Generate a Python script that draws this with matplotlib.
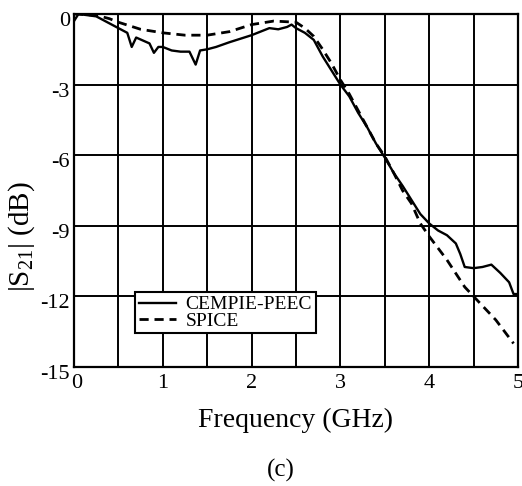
import numpy as np
import matplotlib
matplotlib.use("Agg")
import matplotlib.pyplot as plt
import matplotlib.transforms as mtransforms

plt.rcParams['font.family'] = ['Liberation Serif', 'DejaVu Serif']
plt.rcParams['mathtext.fontset'] = 'custom'
plt.rcParams['mathtext.rm'] = 'Liberation Serif'
plt.rcParams['mathtext.default'] = 'regular'

# CEMPIE-PEEC (solid)
f_cempie = [0.0, 0.05, 0.25, 0.5, 0.6, 0.65, 0.7, 0.85, 0.9, 0.95, 1.0, 1.1, 1.2, 1.3,
            1.37, 1.42, 1.5, 1.6, 1.75, 2.0, 2.1, 2.2, 2.3, 2.4, 2.45, 2.5, 2.6, 2.7,
            2.8, 2.9, 3.0, 3.1, 3.2, 3.3, 3.4, 3.5, 3.6, 3.7, 3.8, 3.9, 4.0, 4.1, 4.2,
            4.3, 4.35, 4.4, 4.5, 4.6, 4.7, 4.8, 4.9, 4.95, 5.0]
s21_cempie = [-0.3, 0.0, -0.1, -0.6, -0.8, -1.4, -1.0, -1.25, -1.65, -1.4, -1.4, -1.55,
              -1.6, -1.6, -2.15, -1.55, -1.5, -1.4, -1.2, -0.9, -0.75, -0.6, -0.65, -0.55,
              -0.45, -0.6, -0.8, -1.1, -1.8, -2.4, -3.0, -3.5, -4.2, -4.8, -5.5, -6.1,
              -6.75, -7.3, -7.9, -8.5, -8.9, -9.2, -9.4, -9.75, -10.2, -10.75, -10.8,
              -10.75, -10.65, -11.0, -11.4, -11.9, -11.9]

# SPICE (dashed)
f_spice = [0.0, 0.25, 0.4, 0.5, 0.75, 1.0, 1.25, 1.5, 1.75, 2.0, 2.25, 2.5, 2.6, 2.7,
           2.8, 2.9, 3.0, 3.1, 3.2, 3.3, 3.4, 3.5, 3.6, 3.7, 3.8, 3.9, 4.0, 4.2, 4.4,
           4.5, 4.75, 4.95]
s21_spice = [0.0, -0.05, -0.2, -0.35, -0.65, -0.8, -0.9, -0.9, -0.75, -0.45, -0.3, -0.35,
             -0.6, -0.95, -1.5, -2.1, -2.8, -3.4, -4.1, -4.8, -5.5, -6.05, -6.75, -7.5,
             -8.05, -8.9, -9.45, -10.45, -11.6, -12.0, -13.0, -14.0]

x_ticks = [0, 1, 2, 3, 4, 5]
y_ticks = [0, -3, -6, -9, -12, -15]

fig = plt.figure(figsize=(5.22, 4.86), dpi=100)
ax = fig.add_axes([74/522, 1-367/486, 444/522, 353/486])

ax.plot(f_cempie, s21_cempie, color='black', lw=1.7, label='CEMPIE-PEEC')
ax.plot(f_spice, s21_spice, color='black', lw=2.0, dashes=(3.3, 2.1), label='SPICE')

ax.set_xlim(0, 5)
ax.set_ylim(-15, 0)
ax.set_xticks(x_ticks)
ax.set_xticks(np.arange(0, 5.01, 0.5), minor=True)
ax.set_yticks(y_ticks)
ax.set_yticklabels([str(v) for v in y_ticks])
ax.grid(True, which='both', color='black', lw=1.4)
ax.tick_params(which='both', length=0, labelsize=16, pad=3)
ax.tick_params(axis='x', pad=5)
for s in ax.spines.values():
    s.set_linewidth(1.6)

# y tick labels sit slightly below their grid lines in the reference
down = mtransforms.ScaledTranslation(0, -5/100, fig.dpi_scale_trans)
for lbl in ax.get_yticklabels():
    lbl.set_transform(lbl.get_transform() + down)
xl0 = ax.get_xticklabels()[0]
xl0.set_transform(xl0.get_transform() + mtransforms.ScaledTranslation(3/100, 0, fig.dpi_scale_trans))

ax.set_xlabel('Frequency (GHz)', fontsize=20, labelpad=11)
ax.set_ylabel('|S$_{21}$| (dB)', fontsize=21)
ax.yaxis.set_label_coords(-0.083, 0.368)

leg = ax.legend(loc='upper left', bbox_to_anchor=(0.137, 0.2125), borderaxespad=0,
                fontsize=14, frameon=True, fancybox=False, edgecolor='black',
                framealpha=1, handlelength=1.9, handletextpad=0.5, labelspacing=-0.08,
                borderpad=0.2)
leg.get_frame().set_linewidth(1.5)

fig.text(281/522, 1-470/486, '(c)', fontsize=18, ha='center', va='center')

fig.savefig('out.png', dpi=100)
